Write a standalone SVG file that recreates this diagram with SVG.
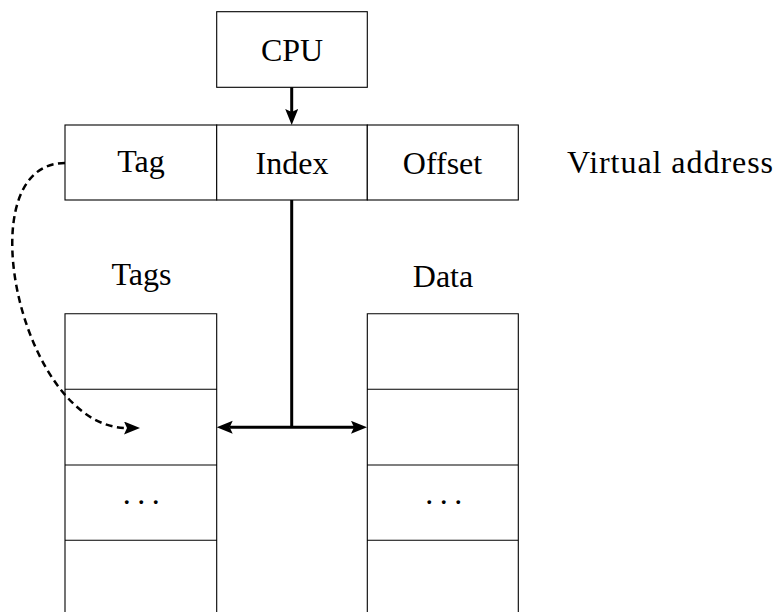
<svg xmlns="http://www.w3.org/2000/svg" width="779" height="612" viewBox="0 0 779 612">
  <style>
    .box { fill: #ffffff; stroke: #000000; stroke-width: 1.1; }
    .ln { fill: none; stroke: #000000; stroke-width: 1.1; }
    .lbl { font-family: "Liberation Serif", "Times New Roman", serif; font-size: 32px; fill: #000000; text-anchor: middle; }
    .thick { fill: none; stroke: #000000; stroke-width: 3; }
    .dash { fill: none; stroke: #000000; stroke-width: 2.5; stroke-dasharray: 7 4.5; }
  </style>
  <defs>
    <marker id="arr" markerUnits="userSpaceOnUse" markerWidth="18" markerHeight="14" refX="3" refY="6.5" orient="auto-start-reverse">
      <path d="M0,0 L16,6.5 L0,13 L3,6.5 Z" fill="#000000"/>
    </marker>
  </defs>
  <rect width="779" height="612" fill="#ffffff"/>

  <g id="cpu">
    <rect class="box" x="216.7" y="11.7" width="150.6" height="75.6"/>
    <text class="lbl" x="292" y="60.7">CPU</text>
  </g>

  <g id="address">
    <rect class="box" x="65" y="125" width="151.7" height="75"/>
    <rect class="box" x="216.7" y="125" width="150.6" height="75"/>
    <rect class="box" x="367.3" y="125" width="151" height="75"/>
    <text class="lbl" x="141" y="171.7">Tag</text>
    <text class="lbl" x="292" y="174">Index</text>
    <text class="lbl" x="442.5" y="174">Offset</text>
  </g>

  <g id="virtual-address-label">
    <text class="lbl" x="670" y="173.3" textLength="206" lengthAdjust="spacing">Virtual address</text>
  </g>

  <g id="tags">
    <text class="lbl" x="141.5" y="285">Tags</text>
    <path class="ln" d="M65,612 V313.7 H216.7 V612 M65,389.3 H216.7 M65,465 H216.7 M65,540.3 H216.7"/>
    <text class="lbl" x="144.5" y="504" style="letter-spacing:6.5px">...</text>
  </g>

  <g id="data">
    <text class="lbl" x="443" y="286.7">Data</text>
    <path class="ln" d="M367.3,612 V313.7 H518.3 V612 M367.3,389.3 H518.3 M367.3,465 H518.3 M367.3,540.3 H518.3"/>
    <text class="lbl" x="447" y="504" style="letter-spacing:6.5px">...</text>
  </g>

  <g id="connectors">
    <path class="thick" d="M291.7,87.3 V112" marker-end="url(#arr)"/>
    <path class="thick" d="M291.7,200 V427.3"/>
    <path class="thick" d="M229.7,427.3 H354" marker-start="url(#arr)" marker-end="url(#arr)"/>
    <path class="dash" d="M65,163 C-36,163 21,428 127,428" marker-end="url(#arr)"/>
  </g>
</svg>
